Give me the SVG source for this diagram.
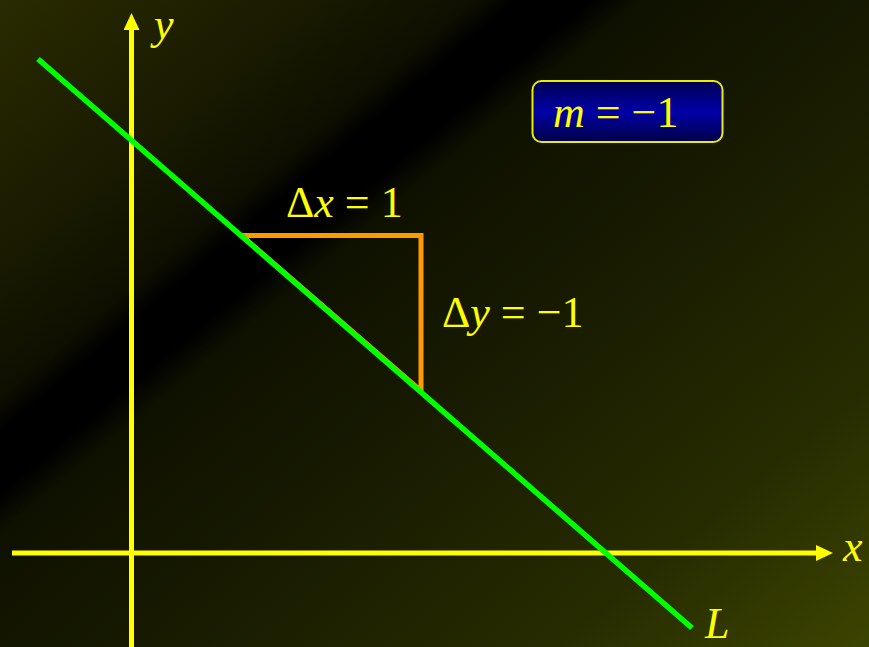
<svg xmlns="http://www.w3.org/2000/svg" width="869" height="647" viewBox="0 0 869 647">
  <defs>
    <linearGradient id="bg" gradientUnits="userSpaceOnUse" x1="0" y1="0" x2="675" y2="808">
      <stop offset="0" stop-color="#292b00"/>
      <stop offset="0.2" stop-color="#181900"/>
      <stop offset="0.29" stop-color="#0e0f00"/>
      <stop offset="0.315" stop-color="#000000"/>
      <stop offset="0.36" stop-color="#000000"/>
      <stop offset="0.39" stop-color="#0f1100"/>
      <stop offset="0.55" stop-color="#171a00"/>
      <stop offset="0.8" stop-color="#262b00"/>
      <stop offset="1" stop-color="#3c4400"/>
    </linearGradient>
    <linearGradient id="boxfill" x1="0" y1="0" x2="0" y2="1">
      <stop offset="0" stop-color="#000050"/>
      <stop offset="0.5" stop-color="#0000a8"/>
      <stop offset="1" stop-color="#000048"/>
    </linearGradient>
    <marker id="arrow" markerUnits="userSpaceOnUse" markerWidth="18" markerHeight="16" refX="0" refY="8" orient="auto">
      <path d="M0,0 L17,8 L0,16 Z" fill="#ffff00"/>
    </marker>
  </defs>
  <style>
    .axis { stroke: #ffff00; stroke-width: 5; fill: none; }
    .lbl { font-family: "Liberation Serif", "Times New Roman", serif; fill: #ffff00; font-size: 44px; }
    .it { font-style: italic; }
  </style>
  <rect x="0" y="0" width="869" height="647" fill="url(#bg)"/>

  <g id="connectors">
    <line class="axis" x1="12" y1="553" x2="816" y2="553" marker-end="url(#arrow)"/>
    <line class="axis" x1="131.5" y1="647" x2="131.5" y2="30" marker-end="url(#arrow)"/>
  </g>

  <g id="triangle">
    <path d="M241.5,235.5 L421,235.5 L421,391 Z" fill="none" stroke="#ff9900" stroke-width="5" stroke-linejoin="miter"/>
  </g>

  <g id="line-L">
    <line x1="38" y1="59" x2="692" y2="628" stroke="#00ff00" stroke-width="5.5"/>
  </g>

  <g id="slope-box">
    <rect x="532.5" y="81" width="190" height="61" rx="9" ry="9" fill="url(#boxfill)" stroke="#ecec00" stroke-width="2"/>
    <text class="lbl" x="553" y="127" font-size="46"><tspan class="it">m</tspan> = −1</text>
  </g>

  <g id="label-dx">
    <text class="lbl" x="286" y="217">Δ<tspan class="it">x</tspan> = 1</text>
  </g>
  <g id="label-dy">
    <text class="lbl" x="442" y="327">Δ<tspan class="it">y</tspan> = −1</text>
  </g>
  <g id="label-y">
    <text class="lbl it" x="154" y="39" font-size="37">y</text>
  </g>
  <g id="label-x">
    <text class="lbl it" x="843" y="561">x</text>
  </g>
  <g id="label-L">
    <text class="lbl it" x="705" y="638" font-size="46">L</text>
  </g>
</svg>
